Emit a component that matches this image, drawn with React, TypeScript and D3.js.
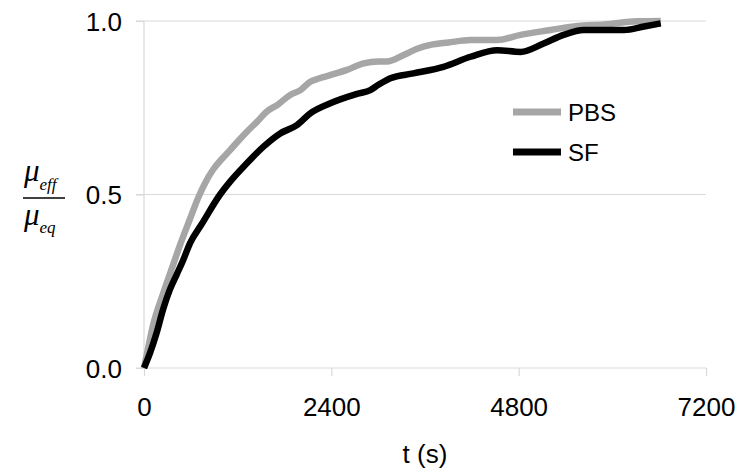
import React, { useRef, useEffect } from 'react';
import * as d3 from 'd3';

// time in seconds, normalised mobility
const pbsT = [0, 60, 118, 246, 374, 462, 590, 693, 780, 886, 1000, 1103, 1210, 1318, 1450, 1574, 1720, 1873, 2000, 2130, 2250, 2387, 2600, 2814, 3003, 3114, 3327, 3500, 3670, 3900, 4183, 4525, 4824, 5209, 5552, 5894, 6321, 6620];
const pbsV = [0, 0.065, 0.125, 0.215, 0.298, 0.355, 0.43, 0.49, 0.532, 0.572, 0.603, 0.628, 0.655, 0.681, 0.71, 0.739, 0.76, 0.787, 0.8, 0.825, 0.835, 0.844, 0.859, 0.878, 0.883, 0.883, 0.902, 0.92, 0.931, 0.938, 0.945, 0.945, 0.96, 0.974, 0.986, 0.99, 0.999, 1.0];

const sfT = [0, 80, 160, 246, 330, 420, 500, 590, 740, 975, 1103, 1318, 1531, 1745, 1959, 2130, 2387, 2729, 2900, 3003, 3156, 3451, 3837, 4183, 4525, 4824, 5120, 5376, 5633, 5894, 6150, 6407, 6620];
const sfV = [0, 0.045, 0.1, 0.17, 0.225, 0.27, 0.31, 0.36, 0.415, 0.5, 0.537, 0.59, 0.638, 0.676, 0.7, 0.734, 0.763, 0.79, 0.801, 0.816, 0.835, 0.849, 0.868, 0.897, 0.916, 0.911, 0.935, 0.96, 0.974, 0.974, 0.974, 0.984, 0.993];

const xTicks = [0, 2400, 4800, 7200];
const yTicks = [0, 0.5, 1.0];
const seriesNames = ['PBS', 'SF'];
const seriesColors = ['#a6a6a6', '#000000'];

export default function App() {
  const svgRef = useRef<SVGSVGElement>(null);
  const width = 750;
  const height = 473;

  useEffect(() => {
    const svg = d3.select(svgRef.current);
    svg.selectAll('*').remove();

    const x = d3.scaleLinear().domain([0, 7200]).range([144, 706]);
    const y = d3.scaleLinear().domain([0, 1]).range([368, 21]);
    const font = 'Liberation Sans, Arial, sans-serif';
    const grid = '#d9d9d9';

    // gridlines
    svg.append('g')
      .selectAll('line')
      .data(yTicks.filter((d) => d > 0))
      .join('line')
      .attr('x1', x(0) - 8)
      .attr('x2', x(7200))
      .attr('y1', (d) => y(d))
      .attr('y2', (d) => y(d))
      .attr('stroke', grid)
      .attr('stroke-width', 1.2);

    // axes
    const yAxis = d3.axisLeft(y).tickValues(yTicks).tickSize(8).tickFormat(d3.format('.1f'));
    const gy = svg.append('g').attr('transform', `translate(${x(0)},0)`).call(yAxis);
    gy.selectAll('line, path').attr('stroke', grid).attr('stroke-width', 1.2);
    gy.select('.domain').attr('d', `M0,${y(1)}V${y(0)}`);
    gy.selectAll('text')
      .attr('font-family', font)
      .attr('font-size', 26)
      .attr('fill', '#000')
      .attr('x', -22)
      .attr('dy', '0.36em');

    const xAxis = d3.axisBottom(x).tickValues(xTicks).tickSize(8).tickFormat(d3.format('d'));
    const gx = svg.append('g').attr('transform', `translate(0,${y(0)})`).call(xAxis);
    gx.selectAll('line, path').attr('stroke', grid).attr('stroke-width', 1.2);
    gx.select('.domain').attr('d', `M${x(0) - 8},0H${x(7200)}`);
    gx.selectAll('text')
      .attr('font-family', font)
      .attr('font-size', 26)
      .attr('fill', '#000')
      .attr('y', 30)
      .attr('dy', '0.71em');

    svg.append('text')
      .attr('x', (x(0) + x(7200)) / 2)
      .attr('y', 463)
      .attr('text-anchor', 'middle')
      .attr('font-family', font)
      .attr('font-size', 26)
      .text('t (s)');

    // y label as fraction
    const lab = svg.append('g')
      .attr('font-family', "'Liberation Serif', 'Times New Roman', serif")
      .attr('font-style', 'italic');
    const top = lab.append('text').attr('x', 24).attr('y', 181).attr('font-size', 31);
    top.append('tspan').text('μ');
    top.append('tspan').attr('font-size', 17).attr('dy', 9).text('eff');
    lab.append('line')
      .attr('x1', 23).attr('x2', 65)
      .attr('y1', 198).attr('y2', 198)
      .attr('stroke', '#000').attr('stroke-width', 1.5);
    const bot = lab.append('text').attr('x', 24).attr('y', 225).attr('font-size', 31);
    bot.append('tspan').text('μ');
    bot.append('tspan').attr('font-size', 17).attr('dy', 8).text('eq');

    // data
    const series = [
      pbsT.map((t, i) => [t, pbsV[i]] as [number, number]),
      sfT.map((t, i) => [t, sfV[i]] as [number, number]),
    ];
    const line = d3.line<[number, number]>()
      .x((d) => x(d[0]))
      .y((d) => y(d[1]))
      .curve(d3.curveMonotoneX);

    series.forEach((s, i) => {
      svg.append('path')
        .datum(s)
        .attr('fill', 'none')
        .attr('stroke', seriesColors[i])
        .attr('stroke-width', 6.5)
        .attr('stroke-linejoin', 'round')
        .attr('d', line);
    });

    // legend
    const leg = svg.append('g');
    seriesNames.forEach((name, i) => {
      const ly = 112 + i * 40;
      leg.append('line')
        .attr('x1', 513).attr('x2', 561)
        .attr('y1', ly).attr('y2', ly)
        .attr('stroke', seriesColors[i])
        .attr('stroke-width', 7);
      leg.append('text')
        .attr('x', 568)
        .attr('y', ly)
        .attr('dy', '0.36em')
        .attr('font-family', font)
        .attr('font-size', 24)
        .text(name);
    });
  }, []);

  return (
    <div style={{ position: 'absolute', left: 0, top: 0 }}>
      <svg ref={svgRef} width={width} height={height} style={{ display: 'block', background: '#fff' }} />
    </div>
  );
}
